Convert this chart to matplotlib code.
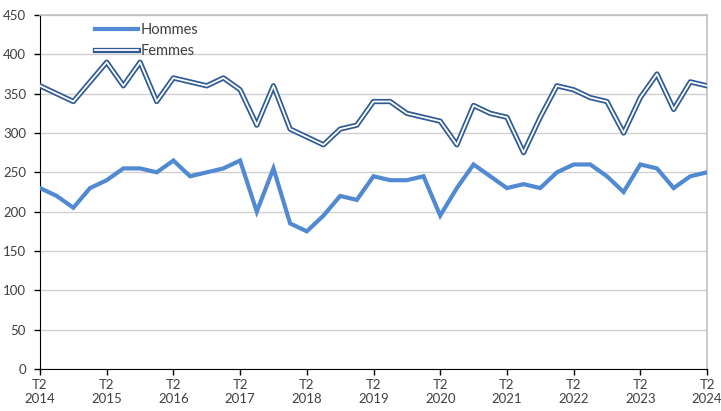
import matplotlib
matplotlib.use("Agg")
import matplotlib.pyplot as plt
import matplotlib.patheffects as pe

plt.rcParams['font.family'] = ['Lato', 'DejaVu Sans']

years = [str(y) for y in range(2014, 2025)]
hommes = [230, 220, 205, 230, 240, 255, 255, 250, 265, 245, 250, 255, 265, 200, 255,
          185, 175, 195, 220, 215, 245, 240, 240, 245, 195, 230, 260, 245, 230, 235,
          230, 250, 260, 260, 245, 225, 260, 255, 230, 245, 250]
femmes = [360, 350, 340, 365, 390, 360, 390, 340, 370, 365, 360, 370, 355, 310, 360,
          305, 295, 285, 305, 310, 340, 340, 325, 320, 315, 285, 335, 325, 320, 275,
          320, 360, 355, 345, 340, 300, 345, 375, 330, 365, 360]
yticks = [0, 50, 100, 150, 200, 250, 300, 350, 400, 450]

x = list(range(len(hommes)))
fig = plt.figure(figsize=(7.21, 4.11), dpi=100)
ax = fig.add_axes([40/721, 1-369/411, (707-40)/721, (369-15)/411])

ax.plot(x, hommes, color='#5189D3', lw=3.0, solid_joinstyle='miter', label='Hommes', zorder=3)
ax.plot(x, femmes, color='white', lw=1.3, label='Femmes', zorder=3,
        path_effects=[pe.Stroke(linewidth=3.8, foreground='#2F5A94'), pe.Normal()])

ax.set_xlim(0, len(x)-1)
ax.set_ylim(0, 450)
ax.set_yticks(yticks)
ax.set_xticks(list(range(0, len(x), 4)))
ax.set_xticklabels(['T2\n' + y for y in years])
ax.grid(axis='y', color='#D0D0D0', lw=1)
ax.set_axisbelow(True)
for s in ['top', 'right']:
    ax.spines[s].set_color('#C0C0C0')
    ax.spines[s].set_linewidth(1.2)
ax.spines['left'].set_color('black')
ax.spines['bottom'].set_color('black')
ax.tick_params(axis='both', colors='black', labelcolor='#404040', labelsize=9.5, length=4, width=1)
ax.tick_params(axis='y', pad=6)
ax.tick_params(axis='x', pad=3)

leg = ax.legend(loc='upper left', bbox_to_anchor=(0.0825, 0.978), frameon=False, fontsize=10.5,
                borderpad=0, borderaxespad=0,
                handlelength=2.95, labelspacing=0.48, handletextpad=0.15, labelcolor='#404040')

fig.savefig('out.png', dpi=100)
